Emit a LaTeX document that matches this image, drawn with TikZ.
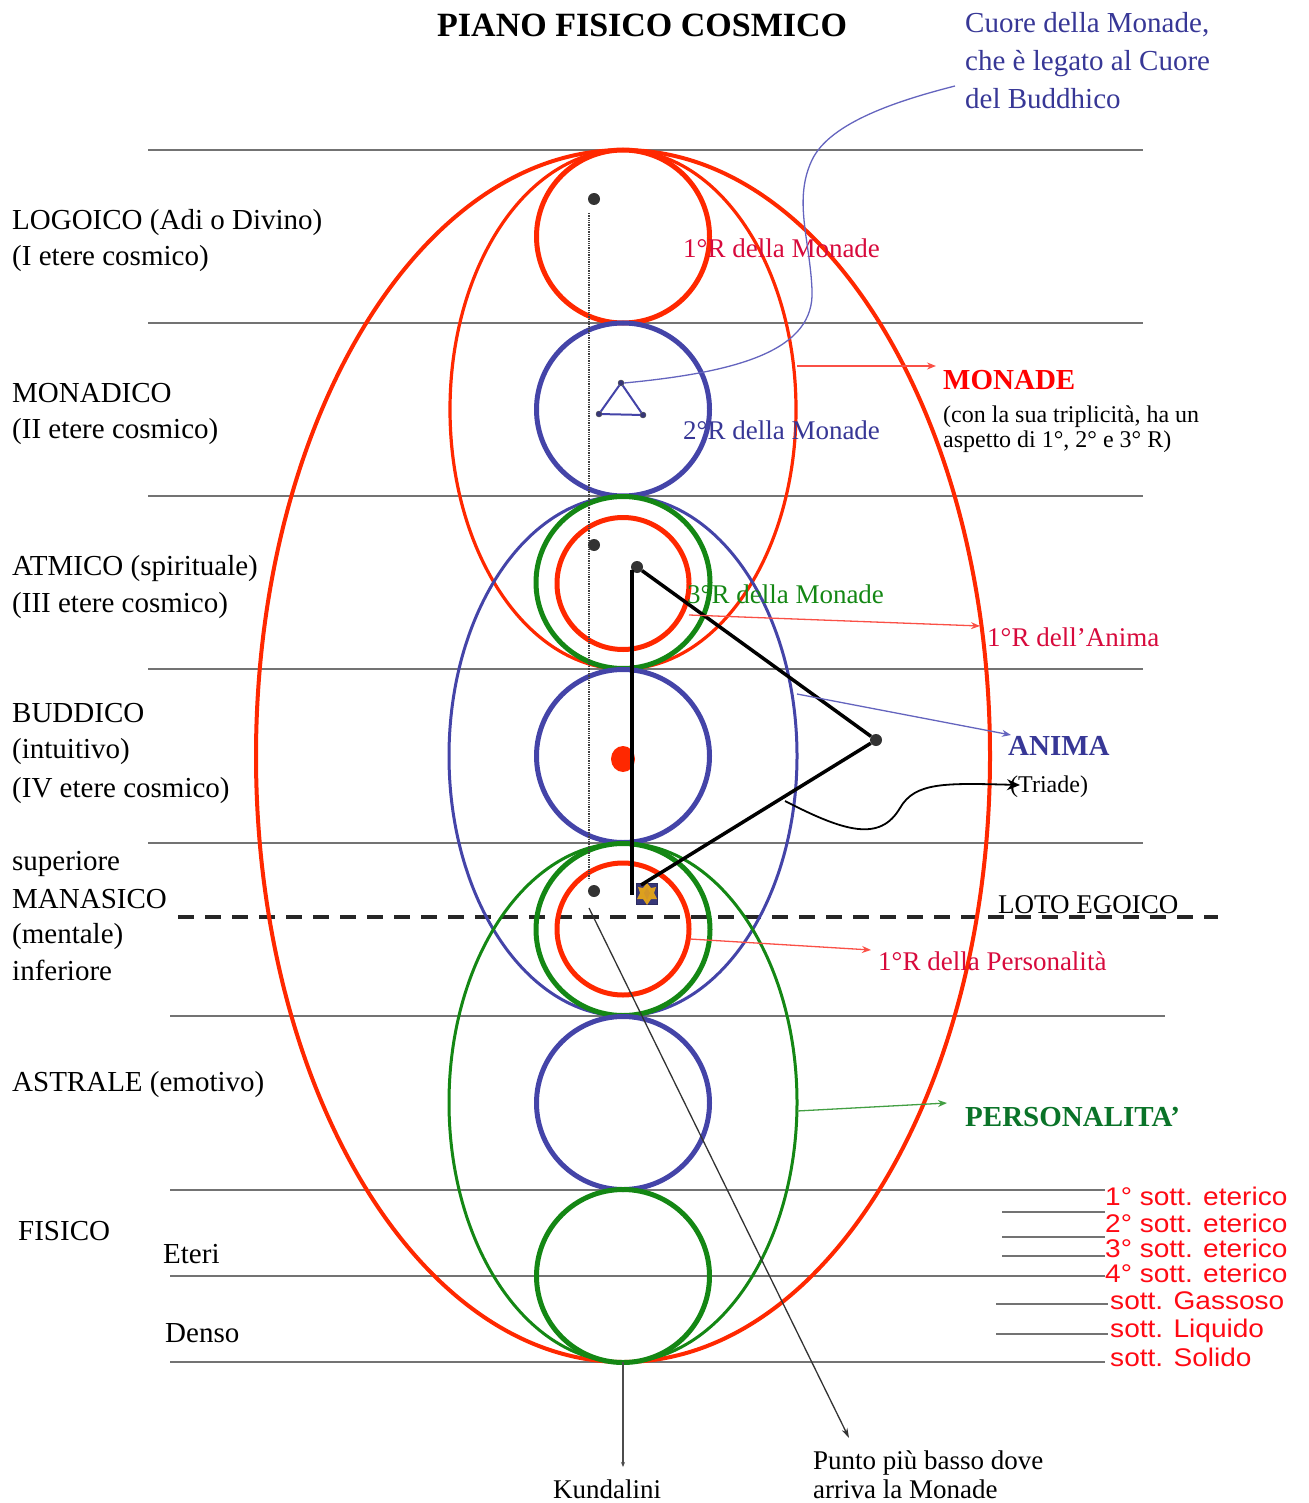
\documentclass[tikz,border=0pt]{standalone}
\usepackage{fontspec}
\setmainfont{Liberation Serif}
\newfontfamily\arialf{Liberation Sans}
\usetikzlibrary{arrows.meta}
\definecolor{cred}{RGB}{255,40,0}
\definecolor{lred}{RGB}{250,80,70}
\definecolor{cblue}{RGB}{68,68,168}
\definecolor{lblue}{RGB}{100,100,190}
\definecolor{cgreen}{RGB}{20,135,20}
\definecolor{tred}{RGB}{215,10,60}
\definecolor{sred}{RGB}{255,10,20}
\definecolor{tblue}{RGB}{55,55,150}
\definecolor{tgreen}{RGB}{10,115,40}
\definecolor{lgray}{RGB}{115,115,115}
\definecolor{navy}{RGB}{55,55,120}
\definecolor{gold}{RGB}{220,160,30}
\tikzset{
  band/.style={draw=lgray, line width=2.4pt},
  ringR/.style={draw=cred, line width=5pt},
  ringB/.style={draw=cblue, line width=5pt},
  ringG/.style={draw=cgreen, line width=5pt},
  lab/.style={anchor=base west, inner sep=0pt, font=\fontsize{29}{35}\selectfont},
  labs/.style={anchor=base west, inner sep=0pt, font=\fontsize{27}{32}\selectfont},
  labxs/.style={anchor=base west, inner sep=0pt, font=\fontsize{24}{28}\selectfont},
  labb/.style={anchor=base west, inner sep=0pt, font=\bfseries\fontsize{29}{35}\selectfont},
  sotto/.style={anchor=base west, inner sep=0pt, text=sred, xscale=1.1, font=\arialf\fontsize{25.5}{28}\selectfont},
  bdot/.style={circle, fill=black!80, inner sep=0pt, minimum size=12pt},
  sdot/.style={circle, fill=navy, draw=black!70, inner sep=0pt, minimum size=6pt},
  thinarrow/.style={-{Stealth[length=9pt,width=7pt]}, line width=1.3pt},
  triline/.style={draw=black, line width=3.5pt},
}
\begin{document}
\begin{tikzpicture}[x=1pt,y=-1pt]
\useasboundingbox (0,0) rectangle (1308,1503);

% horizontal plane lines
\draw[band] (148,150) -- (1143,150);
\draw[band] (148,323) -- (1143,323);
\draw[band] (148,496) -- (1143,496);
\draw[band] (148,669) -- (1143,669);
\draw[band] (148,843) -- (1143,843);
\draw[band] (170,1016) -- (1165,1016);
\draw[band] (170,1190) -- (1105,1190);
\draw[band] (170,1276) -- (1105,1276);
\draw[band] (170,1362) -- (1105,1362);
\draw[band] (1002,1212) -- (1105,1212);
\draw[band] (1002,1237) -- (1105,1237);
\draw[band] (1002,1256) -- (1105,1256);
\draw[band] (996,1304) -- (1108,1304);
\draw[band] (996,1334) -- (1108,1334);

% dashed egoic lotus line
\draw[black!85, line width=4pt, dash pattern=on 16pt off 11pt] (178,917) -- (1218,917);

% big ellipses
\draw[cred, line width=4pt] (623,756) ellipse [x radius=367pt, y radius=606pt];
\draw[cred, line width=3.2pt] (623,409.5) ellipse [x radius=173pt, y radius=259.5pt];
\draw[cblue, line width=3pt] (623,756) ellipse [x radius=174pt, y radius=260pt];
\draw[cgreen, line width=3pt] (623,1102.5) ellipse [x radius=174pt, y radius=259.5pt];

% circles
\draw[ringR] (623,236.5) circle [radius=86.5pt];
\draw[ringB] (623,409.5) circle [radius=86.5pt];
\draw[ringG] (623,582.5) ellipse [x radius=87pt, y radius=86pt];
\draw[ringR] (623,583.5) ellipse [x radius=66pt, y radius=66pt];
\draw[ringB] (623,756) circle [radius=86.5pt];
\draw[ringG] (623,929.5) ellipse [x radius=87pt, y radius=86pt];
\draw[ringR] (623,929) ellipse [x radius=66pt, y radius=66pt];
\draw[ringB] (623,1103) circle [radius=86.5pt];
\draw[ringG] (623,1276) circle [radius=86.5pt];

% red dot (buddhic heart)
\fill[cred] (623,759) ellipse [x radius=12pt, y radius=13pt];

% dotted vertical line and black dots
\draw[black!75, line width=1.3pt, densely dotted] (589,213) -- (589,880);
\node[bdot] (d1) at (594,199) {};
\node[bdot] (d2) at (594,545) {};
\node[bdot] (d3) at (594,891) {};

% small blue triangle
\node[sdot] (t1) at (621,383) {};
\node[sdot] (t2) at (599,414) {};
\node[sdot] (t3) at (643,415) {};
\draw[cblue, line width=2pt] (t1) -- (t2) -- (t3) -- (t1);

% black triangle
\node[bdot] (ta) at (637,567) {};
\node[bdot] (tb) at (876,740) {};
\node[draw=navy!80!black, fill=navy, minimum size=21pt, inner sep=0pt] (lotus) at (647,894) {};
\fill[gold] (647,883) -- (651,888) -- (656,887) -- (654,893) -- (657,899) -- (651,899) -- (647,905) -- (643,899) -- (637,899) -- (640,893) -- (638,887) -- (643,888) -- cycle;
\fill[gold!70!brown] (647,888) -- (650,893) -- (647,900) -- (644,893) -- cycle;
\draw[triline] (632,570) -- (632,895);
\draw[triline] (ta) -- (tb);
\draw[triline] (tb) -- (641,885);

% texts
\node[anchor=base west, inner sep=0pt, font=\bfseries\fontsize{34}{40}\selectfont] (title) at (437,37) {PIANO FISICO COSMICO};

\node[lab, text=tblue] (cu1) at (965,33) {Cuore della Monade,};
\node[lab, text=tblue] (cu2) at (965,71) {che è legato al Cuore};
\node[lab, text=tblue] (cu3) at (965,109) {del Buddhico};

\node[lab] (l1a) at (12,230) {LOGOICO (Adi o Divino)};
\node[lab] (l1b) at (12,266) {(I etere cosmico)};
\node[lab] (l2a) at (12,402) {MONADICO};
\node[lab] (l2b) at (12,438) {(II etere cosmico)};
\node[lab] (l3a) at (12,575) {ATMICO (spirituale)};
\node[lab] (l3b) at (12,612) {(III etere cosmico)};
\node[lab] (l4a) at (12,722) {BUDDICO};
\node[lab] (l4b) at (12,758) {(intuitivo)};
\node[lab] (l4c) at (12,797) {(IV etere cosmico)};
\node[lab] (l5a) at (12,870) {superiore};
\node[lab] (l5b) at (12,908) {MANASICO};
\node[lab] (l5c) at (12,943) {(mentale)};
\node[lab] (l5d) at (12,980) {inferiore};
\node[lab] (l6) at (12,1091) {ASTRALE (emotivo)};
\node[lab] (l7) at (18,1240) {FISICO};
\node[lab] (l7a) at (163,1263) {Eteri};
\node[lab] (l7b) at (165,1342) {Denso};

\node[labs, text=tred] (r1) at (683,258) {1°R della Monade};
\node[labs, text=tblue] (r2) at (683,439) {2°R della Monade};
\node[labs, text=cgreen] (r3) at (687,603) {3°R della Monade};
\node[labs, text=tred] (ra) at (987,646) {1°R dell’Anima};
\node[labs, text=tred] (rp) at (878,970) {1°R della Personalità};
\node[labs] (loto) at (998,913) {LOTO EGOICO};

\node[labb, text=red] (monade) at (943,389) {MONADE};
\node[labxs] (mon1) at (943,422) {(con la sua triplicità, ha un};
\node[labxs] (mon2) at (943,447) {aspetto di 1°, 2° e 3° R)};
\node[labb, text=tblue] (anima) at (1008,755) {ANIMA};
\node[labxs] (triade) at (1010,792) {(Triade)};
\node[labb, text=tgreen] (pers) at (965,1126) {PERSONALITA’};

\node[labs] (kund) at (553,1498) {Kundalini};
\node[labs] (punto1) at (813,1469) {Punto più basso dove};
\node[labs] (punto2) at (813,1498) {arriva la Monade};

\node[sotto] (s1) at (1105,1205) {1° sott. eterico};
\node[sotto] (s2) at (1105,1232) {2° sott. eterico};
\node[sotto] (s3) at (1105,1257) {3° sott. eterico};
\node[sotto] (s4) at (1105,1282) {4° sott. eterico};
\node[sotto] (s5) at (1110,1309) {sott. Gassoso};
\node[sotto] (s6) at (1110,1337) {sott. Liquido};
\node[sotto] (s7) at (1110,1366) {sott. Solido};

% connectors
\coordinate (cuoreEnd) at (955,86);
\draw[lblue, line width=1.3pt] (t1.east) .. controls (740,372) and (815,350) .. (812,290)
  .. controls (810,240) and (793,200) .. (812,160) .. controls (830,122) and (900,100) .. (cuoreEnd);

\coordinate (monStart) at (797,366);
\coordinate (monTip) at (936,366);
\draw[lred, thinarrow] (monStart) -- (monTip);

\coordinate (anS) at (689,615);
\coordinate (anT) at (980,626);
\draw[lred, thinarrow] (anS) -- (anT);

\coordinate (aniS) at (797,694);
\coordinate (aniT) at (1011,735);
\draw[lblue, thinarrow] (aniS) -- (aniT);

\coordinate (triS) at (785,801);
\coordinate (triT) at (1020,785);
\draw[black, line width=1.8pt, -{Stealth[length=13pt,width=11pt]}] (triS) .. controls (845,832) and (880,842) .. (900,808)
  .. controls (915,782) and (945,783) .. (triT);

\coordinate (perS) at (797,1111);
\coordinate (perT) at (947,1103);
\draw[cgreen!80, thinarrow] (perS) -- (perT);

\coordinate (rpS) at (690,939);
\coordinate (rpT) at (871,950);
\draw[lred, thinarrow] (rpS) -- (rpT);

\coordinate (kTop) at (623,1362);
\coordinate (kBot) at (623,1467);
\draw[black!70, line width=1.3pt, -{Stealth[length=5pt,width=4pt]}] (kTop) -- (kBot);

\coordinate (pS) at (589,908);
\coordinate (pT) at (849,1438);
\draw[black!80, line width=1.3pt, -{Stealth[length=10pt,width=6pt]}] (pS) -- (pT);
\end{tikzpicture}
\end{document}
